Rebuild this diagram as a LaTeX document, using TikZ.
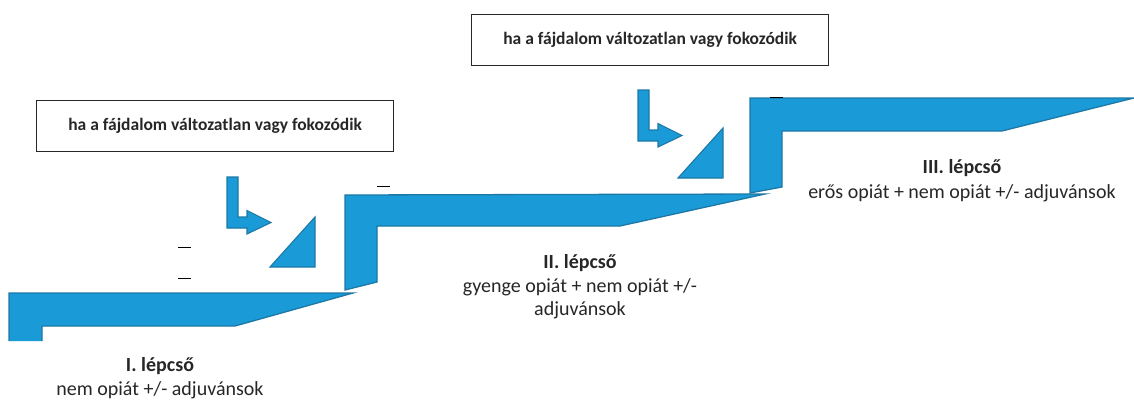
\documentclass[tikz,border=0pt]{standalone}
\usepackage{fontspec}
\setmainfont{Carlito}
\definecolor{stairblue}{HTML}{1A9BD7}
\definecolor{stairedge}{HTML}{1D78A6}
\definecolor{txtgray}{HTML}{262626}
\begin{document}
\begin{tikzpicture}[x=1pt, y=-1pt,
    stair/.style={fill=stairblue, draw=stairedge, line width=1.3pt, line join=miter},
    infobox/.style={draw=txtgray, line width=1.2pt, minimum width=357pt, minimum height=51pt,
      inner sep=0pt, text=txtgray, font=\fontsize{17.5}{20}\selectfont\bfseries},
    steptitle/.style={anchor=base, text=txtgray, font=\fontsize{20}{24}\selectfont\bfseries},
    steptext/.style={anchor=base, text=txtgray, font=\fontsize{20}{24}\selectfont},
    stray/.style={draw=black, line width=0.9pt}]
  \useasboundingbox (0,0) rectangle (1134,399);

  % stairs
  \path[stair] (42,341) -- (42,326) -- (235,326) -- (353,293) -- (9,293) -- (9,341);
  \path[stair] (345,290) -- (345,195) -- (765,194) -- (620,226) -- (377,226) -- (377,282) -- cycle;
  \path[stair] (750,193) -- (750,98) -- (1134,98) -- (1002,131) -- (782,131) -- (782,187) -- cycle;

  % bent arrows and wedges
  \foreach \ax/\ay/\tx/\ty in {227/177/270/267, 638/90/678/178}{
    \path[stair, line width=1.1pt] (\ax,\ay) -- ++(11,0) -- ++(0,40) -- ++(9,0) -- ++(0,-6.5)
      -- ++(24,12) -- ++(-24,11.5) -- ++(0,-6) -- ++(-20,0) -- cycle;
    \path[stair, line width=1.1pt] (\tx,\ty) -- ++(45,0) -- ++(0,-50) -- cycle;
  }

  % boxes
  \node[infobox, anchor=north west] (box1) at (36,100) {ha a fájdalom változatlan vagy fokozódik};
  \node[infobox, anchor=north west] (box2) at (471,14) {ha a fájdalom változatlan vagy fokozódik};

  % stray dashes
  \coordinate (d1) at (178,247.5);
  \coordinate (d2) at (178,278.5);
  \coordinate (d3) at (377,186);
  \coordinate (d4) at (770,97);
  \foreach \d in {d1,d2,d3,d4}
    \draw[stray] (\d) -- ++(13,0);

  % labels
  \node[steptitle] (title1) at (160,371) {I. lépcső};
  \node[steptext] (text1) at ([yshift=-24pt]title1.base) {nem opiát +/- adjuvánsok};
  \node[steptitle] (title2) at (580,268) {II. lépcső};
  \node[steptext] (text2a) at ([yshift=-24pt]title2.base) {gyenge opiát + nem opiát +/-};
  \node[steptext] (text2b) at ([yshift=-23pt]text2a.base) {adjuvánsok};
  \node[steptitle] (title3) at (962,173) {III. lépcső};
  \node[steptext] (text3) at ([yshift=-25pt]title3.base) {erős opiát + nem opiát +/- adjuvánsok};
\end{tikzpicture}
\end{document}
